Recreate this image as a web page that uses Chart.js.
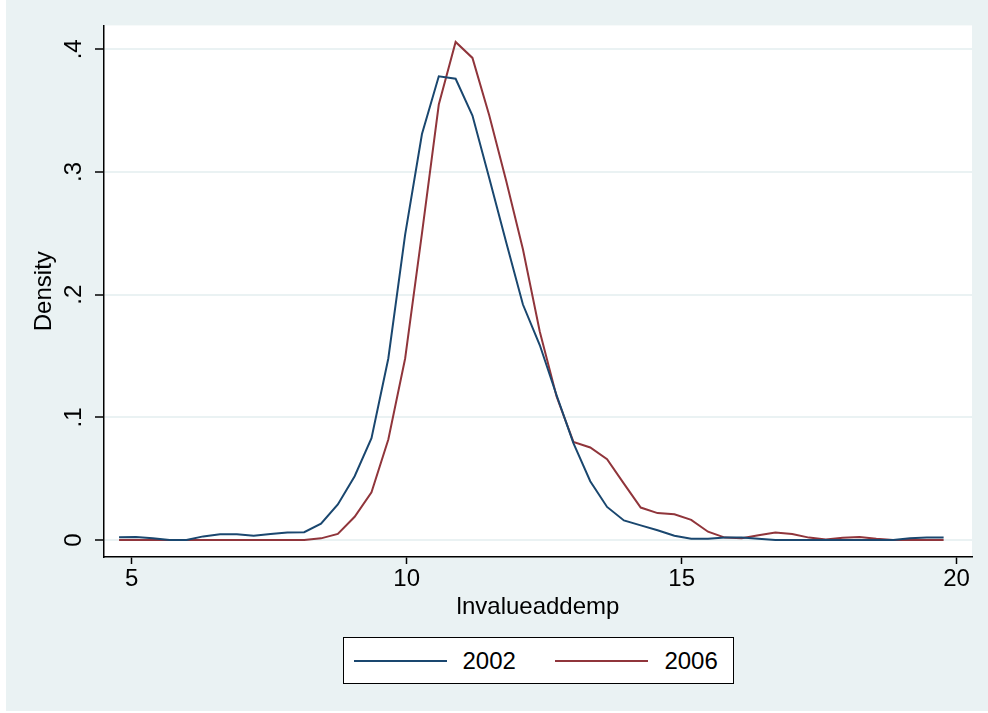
<!DOCTYPE html>
<html>
<head>
<meta charset="utf-8">
<script src="https://cdn.jsdelivr.net/npm/chart.js@4.4.0/dist/chart.umd.min.js"></script>
<style>
  html, body { margin: 0; padding: 0; background: #fff; }
  #wrap { position: relative; width: 988px; height: 713px; overflow: hidden; }
  #bg { position: absolute; left: 6px; top: 0; width: 982px; height: 711px; background: #EAF2F3; }
  #chart { position: absolute; left: 0; top: 0; }
  #legend {
    position: absolute; left: 343px; top: 637px; width: 391px; height: 47px;
    box-sizing: border-box; border: 1.5px solid #000; background: #fff;
    display: flex; align-items: center;
    font-family: "Liberation Sans", Helvetica, Arial, sans-serif; font-size: 24px; color: #000;
  }
  .lg-line { width: 93px; height: 2px; }
  .lg-text { margin-left: 16px; line-height: 1; }
</style>
</head>
<body>
<div id="wrap">
  <div id="bg"></div>
  <canvas id="chart" width="988" height="713"></canvas>
  <div id="legend"></div>
</div>
<script>
// ================= DATA =================
// kdensity evaluation points (lnvalueaddemp)
const xPoints = [4.770, 5.076, 5.382, 5.688, 5.994, 6.300, 6.606, 6.912, 7.218, 7.524,
                 7.830, 8.136, 8.442, 8.748, 9.054, 9.360, 9.666, 9.972, 10.278, 10.584,
                 10.890, 11.196, 11.502, 11.808, 12.114, 12.420, 12.726, 13.032, 13.338, 13.644,
                 13.950, 14.256, 14.562, 14.868, 15.174, 15.480, 15.786, 16.092, 16.398, 16.704,
                 17.010, 17.316, 17.622, 17.928, 18.234, 18.540, 18.846, 19.152, 19.458, 19.764];

const density2002 = [0.0022, 0.0025, 0.0014, 0.0000, 0.0000, 0.0030, 0.0047, 0.0047, 0.0036, 0.0050,
                     0.0062, 0.0064, 0.0134, 0.0290, 0.0520, 0.0830, 0.1480, 0.2490, 0.3310, 0.3780,
                     0.3760, 0.3460, 0.2950, 0.2430, 0.1920, 0.1590, 0.1180, 0.0790, 0.0480, 0.0270,
                     0.0160, 0.0120, 0.0080, 0.0035, 0.0010, 0.0010, 0.0020, 0.0020, 0.0010, 0.0000,
                     0.0000, 0.0000, 0.0000, 0.0000, 0.0000, 0.0000, 0.0000, 0.0014, 0.0020, 0.0020];

const density2006 = [0.0000, 0.0000, 0.0000, 0.0000, 0.0000, 0.0000, 0.0000, 0.0000, 0.0000, 0.0000,
                     0.0000, 0.0000, 0.0014, 0.0050, 0.0190, 0.0390, 0.0820, 0.1480, 0.2500, 0.3550,
                     0.4060, 0.3930, 0.3460, 0.2930, 0.2370, 0.1700, 0.1170, 0.0800, 0.0755, 0.0660,
                     0.0460, 0.0265, 0.0220, 0.0210, 0.0165, 0.0068, 0.0020, 0.0014, 0.0040, 0.0062,
                     0.0049, 0.0020, 0.0005, 0.0019, 0.0024, 0.0010, 0.0000, 0.0000, 0.0000, 0.0000];

const seriesNames = ["2002", "2006"];
const xTickValues = [5, 10, 15, 20];
const xTickLabels = ["5", "10", "15", "20"];
const yTickValues = [0, 0.1, 0.2, 0.3, 0.4];
const yTickLabels = ["0", ".1", ".2", ".3", ".4"];

const NAVY = "#1A476F";
const MAROON = "#90353B";
const BG = "#EAF2F3";

Chart.defaults.font.family = '"Liberation Sans", Helvetica, Arial, sans-serif';
Chart.defaults.font.size = 24;
Chart.defaults.color = "#000";

function labelFor(values, labels, v) {
    const i = values.findIndex(t => Math.abs(t - v) < 1e-9);
    return i >= 0 ? labels[i] : "";
}

// white plot region
const plotRegion = {
    id: "plotRegion",
    beforeDraw(chart) {
        const a = chart.chartArea;
        const ctx = chart.ctx;
        ctx.save();
        ctx.fillStyle = "#fff";
        ctx.fillRect(a.left, a.top, a.right - a.left, a.bottom - a.top);
        ctx.restore();
    }
};

const chart = new Chart(document.getElementById("chart"), {
    type: "line",
    data: {
        datasets: [
            {
                label: seriesNames[0],
                data: xPoints.map((x, i) => ({ x: x, y: density2002[i] })),
                borderColor: NAVY,
                backgroundColor: NAVY,
                borderWidth: 2,
                pointRadius: 0,
                tension: 0,
                fill: false
            },
            {
                label: seriesNames[1],
                data: xPoints.map((x, i) => ({ x: x, y: density2006[i] })),
                borderColor: MAROON,
                backgroundColor: MAROON,
                borderWidth: 2,
                pointRadius: 0,
                tension: 0,
                fill: false
            }
        ]
    },
    options: {
        responsive: false,
        animation: false,
        devicePixelRatio: 1,
        layout: { padding: { left: 0, top: 23, right: 16, bottom: 76 } },
        plugins: {
            legend: { display: false },
            tooltip: { enabled: false }
        },
        scales: {
            x: {
                type: "linear",
                min: 4.496,
                max: 20.28,
                afterBuildTicks: s => { s.ticks = xTickValues.map(v => ({ value: v })); },
                afterFit: s => { s.height = 80; },
                ticks: {
                    padding: 1,
                    maxRotation: 0,
                    callback: v => labelFor(xTickValues, xTickLabels, v)
                },
                grid: {
                    drawOnChartArea: false,
                    drawTicks: true,
                    tickLength: 7,
                    tickColor: "#000",
                    tickWidth: 1.5
                },
                border: { display: true, color: "#000", width: 1.5 },
                title: {
                    display: true,
                    text: "lnvalueaddemp",
                    padding: { top: 0, bottom: 15 }
                }
            },
            y: {
                type: "linear",
                min: -0.0138,
                max: 0.4195,
                afterBuildTicks: s => { s.ticks = yTickValues.map(v => ({ value: v })); },
                afterFit: s => { s.width = 104; },
                ticks: {
                    minRotation: 90,
                    maxRotation: 90,
                    crossAlign: "center",
                    padding: 11,
                    callback: v => labelFor(yTickValues, yTickLabels, v)
                },
                grid: {
                    color: BG,
                    lineWidth: 2,
                    drawTicks: true,
                    tickLength: 9,
                    tickColor: "#000",
                    tickWidth: 1.5
                },
                border: { display: true, color: "#000", width: 1.5 },
                title: {
                    display: true,
                    text: "Density",
                    padding: { top: 30, bottom: 0 }
                }
            }
        }
    },
    plugins: [plotRegion]
});

// ================= LEGEND =================
const legendEl = document.getElementById("legend");
chart.data.datasets.forEach((ds, i) => {
    const line = document.createElement("div");
    line.className = "lg-line";
    line.style.background = ds.borderColor;
    line.style.marginLeft = (i === 0 ? 9.5 : 39.5) + "px";
    const txt = document.createElement("div");
    txt.className = "lg-text";
    txt.textContent = ds.label;
    legendEl.appendChild(line);
    legendEl.appendChild(txt);
});
</script>
</body>
</html>
